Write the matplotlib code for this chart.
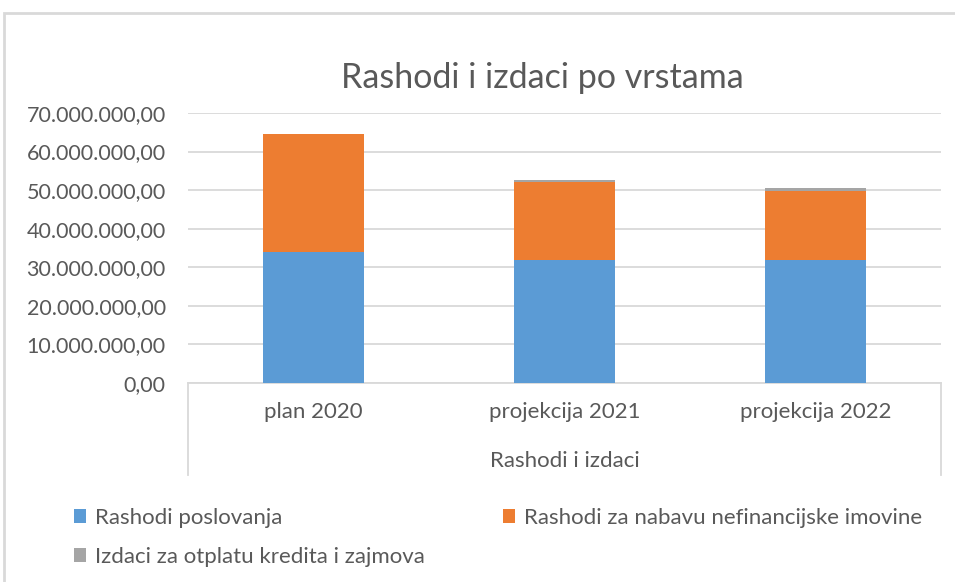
import matplotlib.pyplot as plt
from matplotlib.patches import Rectangle
from matplotlib.ticker import FuncFormatter

# Data
categories = ["plan 2020", "projekcija 2021", "projekcija 2022"]
rashodi_poslovanja = [34.0e6, 32.0e6, 32.0e6]
rashodi_nefinancijske = [30.5e6, 20.1e6, 17.9e6]
izdaci_krediti = [0.1e6, 0.5e6, 0.6e6]
series_names = ["Rashodi poslovanja",
                "Rashodi za nabavu nefinancijske imovine",
                "Izdaci za otplatu kredita i zajmova"]
y_ticks = [0, 10e6, 20e6, 30e6, 40e6, 50e6, 60e6, 70e6]

BLUE = "#5B9BD5"
ORANGE = "#ED7D31"
GRAY = "#A5A5A5"
TEXT = "#595959"
GRID = "#D9D9D9"

plt.rcParams['font.family'] = ['Lato', 'DejaVu Sans']

fig = plt.figure(figsize=(9.55, 5.82), dpi=100)

# chart area frame (top and left edges visible, rest runs off the image)
fig.patches.append(Rectangle((4 / 955, -0.1), 1.2, 1 - 13 / 582 + 0.1,
                             transform=fig.transFigure, fill=False,
                             edgecolor=GRID, linewidth=2))

ax = fig.add_axes([188 / 955, 1 - 383 / 582, (941 - 188) / 955, (383 - 113) / 582])

x = range(len(categories))
width = 0.4
b1 = ax.bar(x, rashodi_poslovanja, width, color=BLUE, zorder=3)
bottom2 = rashodi_poslovanja
b2 = ax.bar(x, rashodi_nefinancijske, width, bottom=bottom2, color=ORANGE, zorder=3)
bottom3 = [a + b for a, b in zip(rashodi_poslovanja, rashodi_nefinancijske)]
b3 = ax.bar(x, izdaci_krediti, width, bottom=bottom3, color=GRAY, zorder=3)

ax.set_xlim(-0.5, len(categories) - 0.5)
ax.set_ylim(0, 70e6)
ax.set_yticks(y_ticks)
ax.yaxis.set_major_formatter(FuncFormatter(
    lambda v, p: f"{v:,.2f}".replace(",", " ").replace(".", ",").replace(" ", ".")))
ax.grid(axis='y', color=GRID, linewidth=1.3, zorder=0)
for s in ['top', 'right', 'left']:
    ax.spines[s].set_visible(False)
ax.spines['bottom'].set_color(GRID)
ax.spines['bottom'].set_linewidth(1.3)
ax.tick_params(axis='both', length=0, labelsize=16, colors=TEXT)
ax.tick_params(axis='y', pad=16, labelsize=15.5)
ax.tick_params(axis='x', pad=14)
ax.set_xticks(list(x))
ax.set_xticklabels(categories)

# multi-level category axis: group outline and group label
for xa in (0, 1):
    ax.plot([xa, xa], [0, -0.34], transform=ax.transAxes, color=GRID,
            linewidth=1.3, clip_on=False)
ax.text(0.5, -0.29, "Rashodi i izdaci", transform=ax.transAxes,
        ha='center', va='center', fontsize=16, color=TEXT)

fig.text(542 / 955, 1 - 78 / 582, "Rashodi i izdaci po vrstama", ha='center',
         va='center', fontsize=24.5, color=TEXT)

fig.legend([b1, b3, b2], [series_names[0], series_names[2], series_names[1]],
           ncol=2, loc='upper left', bbox_to_anchor=(54 / 955, 1 - 488 / 582),
           frameon=False, fontsize=16, labelcolor=TEXT, handlelength=0.55,
           handleheight=0.55, handletextpad=0.4, columnspacing=3.5,
           labelspacing=0.85)

fig.savefig("out.png", dpi=100)
